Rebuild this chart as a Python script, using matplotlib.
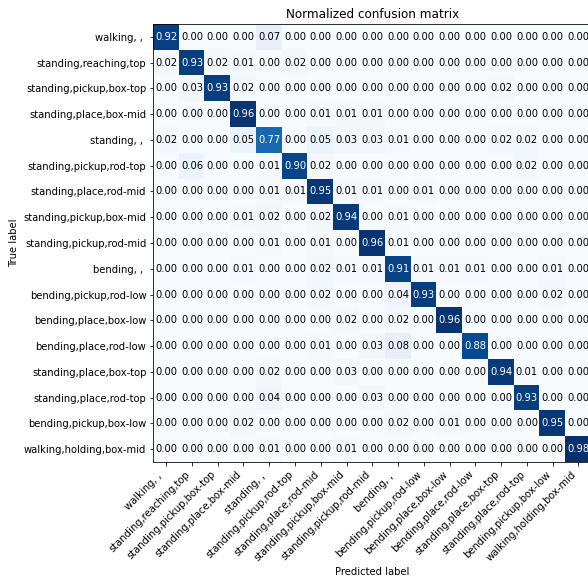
import numpy as np
import matplotlib
matplotlib.use("Agg")
import matplotlib.pyplot as plt

classes = [
    "walking, , ",
    "standing,reaching,top",
    "standing,pickup,box-top",
    "standing,place,box-mid",
    "standing, , ",
    "standing,pickup,rod-top",
    "standing,place,rod-mid",
    "standing,pickup,box-mid",
    "standing,pickup,rod-mid",
    "bending, , ",
    "bending,pickup,rod-low",
    "bending,place,box-low",
    "bending,place,rod-low",
    "standing,place,box-top",
    "standing,place,rod-top",
    "bending,pickup,box-low",
    "walking,holding,box-mid",
]

row_walking = [0.92, 0.00, 0.00, 0.00, 0.07, 0.00, 0.00, 0.00, 0.00, 0.00, 0.00, 0.00, 0.00, 0.00, 0.00, 0.00, 0.00]
row_reach_top = [0.02, 0.93, 0.02, 0.01, 0.00, 0.02, 0.00, 0.00, 0.00, 0.00, 0.00, 0.00, 0.00, 0.00, 0.00, 0.00, 0.00]
row_pick_box_top = [0.00, 0.03, 0.93, 0.02, 0.00, 0.00, 0.00, 0.00, 0.00, 0.00, 0.00, 0.00, 0.00, 0.02, 0.00, 0.00, 0.00]
row_place_box_mid = [0.00, 0.00, 0.00, 0.96, 0.00, 0.00, 0.01, 0.01, 0.01, 0.00, 0.00, 0.00, 0.00, 0.00, 0.00, 0.00, 0.00]
row_standing = [0.02, 0.00, 0.00, 0.05, 0.77, 0.00, 0.05, 0.03, 0.03, 0.01, 0.00, 0.00, 0.00, 0.02, 0.02, 0.00, 0.00]
row_pick_rod_top = [0.00, 0.06, 0.00, 0.00, 0.01, 0.90, 0.02, 0.00, 0.00, 0.00, 0.00, 0.00, 0.00, 0.00, 0.02, 0.00, 0.00]
row_place_rod_mid = [0.00, 0.00, 0.00, 0.00, 0.01, 0.01, 0.95, 0.01, 0.01, 0.00, 0.01, 0.00, 0.00, 0.00, 0.00, 0.00, 0.00]
row_pick_box_mid = [0.00, 0.00, 0.00, 0.01, 0.02, 0.00, 0.02, 0.94, 0.00, 0.01, 0.00, 0.00, 0.00, 0.00, 0.00, 0.00, 0.00]
row_pick_rod_mid = [0.00, 0.00, 0.00, 0.00, 0.01, 0.00, 0.01, 0.00, 0.96, 0.01, 0.00, 0.00, 0.00, 0.00, 0.00, 0.00, 0.00]
row_bending = [0.00, 0.00, 0.00, 0.01, 0.00, 0.00, 0.02, 0.01, 0.01, 0.91, 0.01, 0.01, 0.01, 0.00, 0.00, 0.01, 0.00]
row_pick_rod_low = [0.00, 0.00, 0.00, 0.00, 0.00, 0.00, 0.02, 0.00, 0.00, 0.04, 0.93, 0.00, 0.00, 0.00, 0.00, 0.02, 0.00]
row_place_box_low = [0.00, 0.00, 0.00, 0.00, 0.00, 0.00, 0.00, 0.02, 0.00, 0.02, 0.00, 0.96, 0.00, 0.00, 0.00, 0.00, 0.00]
row_place_rod_low = [0.00, 0.00, 0.00, 0.00, 0.00, 0.00, 0.01, 0.00, 0.03, 0.08, 0.00, 0.00, 0.88, 0.00, 0.00, 0.00, 0.00]
row_place_box_top = [0.00, 0.00, 0.00, 0.00, 0.02, 0.00, 0.00, 0.03, 0.00, 0.00, 0.00, 0.00, 0.00, 0.94, 0.01, 0.00, 0.00]
row_place_rod_top = [0.00, 0.00, 0.00, 0.00, 0.04, 0.00, 0.00, 0.00, 0.03, 0.00, 0.00, 0.00, 0.00, 0.00, 0.93, 0.00, 0.00]
row_pick_box_low = [0.00, 0.00, 0.00, 0.02, 0.00, 0.00, 0.00, 0.00, 0.00, 0.02, 0.00, 0.01, 0.00, 0.00, 0.00, 0.95, 0.00]
row_walk_hold = [0.00, 0.00, 0.00, 0.00, 0.01, 0.00, 0.00, 0.01, 0.00, 0.00, 0.00, 0.00, 0.00, 0.00, 0.00, 0.00, 0.98]

cm = np.array([
    row_walking, row_reach_top, row_pick_box_top, row_place_box_mid,
    row_standing, row_pick_rod_top, row_place_rod_mid, row_pick_box_mid,
    row_pick_rod_mid, row_bending, row_pick_rod_low, row_place_box_low,
    row_place_rod_low, row_place_box_top, row_place_rod_top,
    row_pick_box_low, row_walk_hold,
])

W, H = 588, 579
fig = plt.figure(figsize=(W / 72, H / 72), dpi=72)
ax = fig.add_axes([153.3 / W, (H - 462) / H, 438 / W, 438 / H])

ax.imshow(cm, interpolation="nearest", cmap=plt.cm.Blues, aspect="auto")
ax.set_title("Normalized confusion matrix", fontsize=12)

ticks = np.arange(len(classes))
ax.set_xticks(ticks)
ax.set_xticklabels(classes, rotation=45, ha="right", fontsize=10)
ax.set_yticks(ticks)
ax.set_yticklabels(classes, fontsize=10)

thresh = cm.max() / 2.0
for i in range(cm.shape[0]):
    for j in range(cm.shape[1]):
        ax.text(j, i, format(cm[i, j], ".2f"),
                ha="center", va="center", fontsize=10,
                color="white" if cm[i, j] > thresh else "black")

ax.set_ylabel("True label", fontsize=10)
ax.set_xlabel("Predicted label", fontsize=10)

fig.savefig("out.png", dpi=72)
